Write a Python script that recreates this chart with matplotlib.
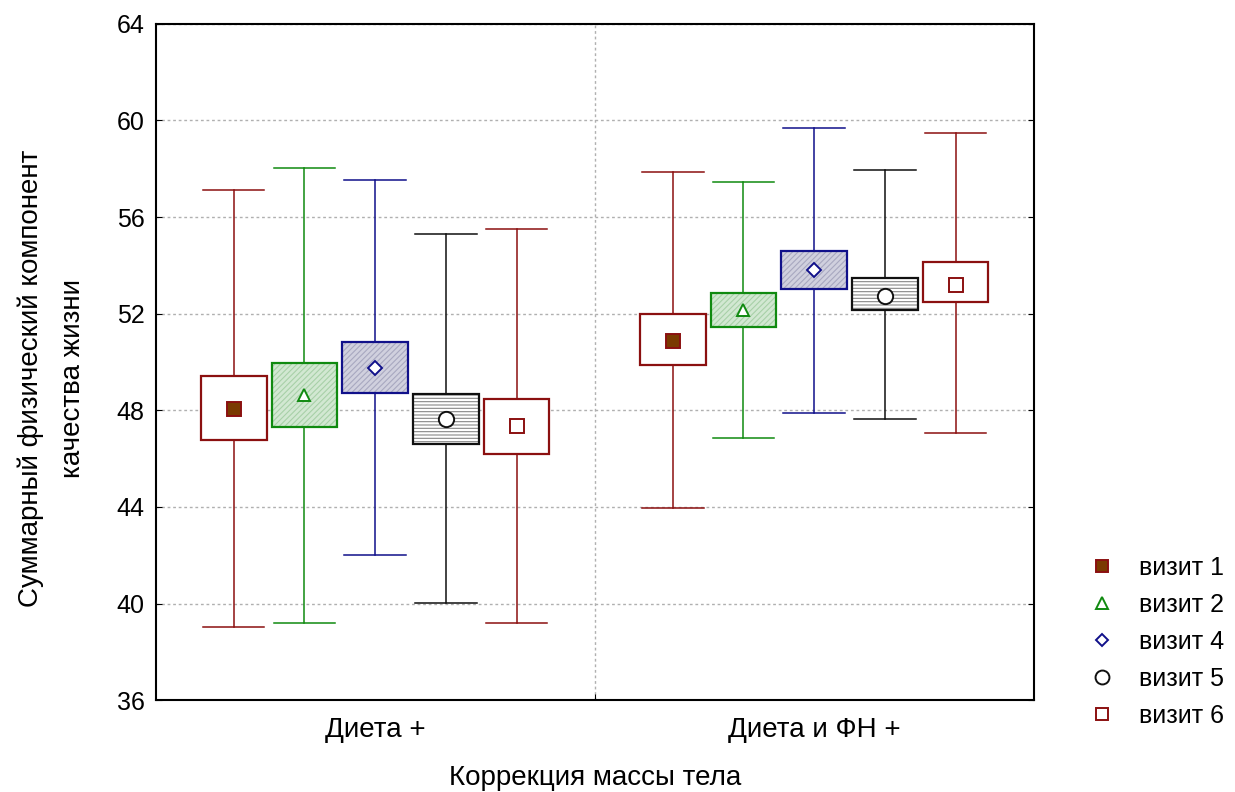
import numpy as np
import matplotlib.pyplot as plt
from matplotlib.patches import Rectangle
from matplotlib.lines import Line2D

plt.rcParams['font.family'] = ['Liberation Sans', 'DejaVu Sans']
plt.rcParams['hatch.linewidth'] = 0.8

groups = ['Диета +', 'Диета и ФН +']
visits = ['визит 1', 'визит 2', 'визит 4', 'визит 5', 'визит 6']

# rows: visits, cols: groups
means = np.array([[48.05, 50.87],
                  [48.63, 52.16],
                  [49.75, 53.81],
                  [47.64, 52.74],
                  [47.35, 53.19]])
box_lo = np.array([[46.77, 49.88],
                   [47.31, 51.45],
                   [48.72, 53.03],
                   [46.60, 52.16],
                   [46.19, 52.49]])
box_hi = np.array([[49.42, 51.99],
                   [49.96, 52.86],
                   [50.83, 54.60],
                   [48.68, 53.48],
                   [48.47, 54.14]])
wh_lo = np.array([[39.02, 43.95],
                  [39.19, 46.85],
                  [42.01, 47.89],
                  [40.02, 47.64],
                  [39.19, 47.06]])
wh_hi = np.array([[57.13, 57.87],
                  [58.04, 57.46],
                  [57.54, 59.70],
                  [55.30, 57.95],
                  [55.51, 59.49]])

# style per visit: edge, box fill, hatch, hatch colour, marker, marker face
styles = [
    ('#8b1010', 'white', None, None, 's', '#7a3a00'),
    ('#108a10', '#d2e8d2', '//////', '#a8d0a8', '^', 'white'),
    ('#10108a', '#d0d0de', '//////', '#a8a8c0', 'D', 'white'),
    ('#101010', 'white', '-----', '#888888', 'o', 'white'),
    ('#8b1010', 'white', None, None, 's', 'white'),
]
msizes = [10, 9, 7, 11, 10]

fig = plt.figure(figsize=(12.35, 7.92), dpi=100)
ax = fig.add_axes([0.126, 0.116, 0.711, 0.854])

offsets = (np.arange(5) - 2) * 0.161
bw = 0.150
cw = 0.140
for i in range(5):
    ec, fc, hatch, hc, mk, mfc = styles[i]
    for j in range(2):
        x = j + 0.5 + offsets[i]
        ax.plot([x, x], [wh_lo[i, j], box_lo[i, j]], color=ec, lw=1.1, zorder=2)
        ax.plot([x, x], [box_hi[i, j], wh_hi[i, j]], color=ec, lw=1.1, zorder=2)
        ax.plot([x - cw / 2, x + cw / 2], [wh_lo[i, j]] * 2, color=ec, lw=1.1, zorder=2)
        ax.plot([x - cw / 2, x + cw / 2], [wh_hi[i, j]] * 2, color=ec, lw=1.1, zorder=2)
        h = box_hi[i, j] - box_lo[i, j]
        ax.add_patch(Rectangle((x - bw / 2, box_lo[i, j]), bw, h, facecolor=fc,
                               edgecolor=hc if hatch else 'none', hatch=hatch,
                               lw=0, zorder=3))
        ax.add_patch(Rectangle((x - bw / 2, box_lo[i, j]), bw, h, facecolor='none',
                               edgecolor=ec, lw=1.6, zorder=4))
        ax.plot(x, means[i, j], marker=mk, ms=msizes[i], mfc=mfc, mec=ec,
                mew=1.4, zorder=5)

ax.set_xlim(0, 2)
ax.set_ylim(36, 64)
ax.set_yticks(np.arange(36, 65, 4))
ax.set_xticks([1.0])
ax.set_xticklabels([''])
ax.set_xticks([0.5, 1.5], minor=True)
ax.set_xticklabels(groups, minor=True)
ax.tick_params(axis='x', which='minor', length=0, pad=12, labelsize=20)
ax.tick_params(axis='x', which='major', direction='in', length=4)
ax.tick_params(axis='y', direction='in', length=4, labelsize=18, right=True, pad=8)
ax.grid(True, axis='y', linestyle=(0, (2, 2)), color='#b0b0b0', lw=1)
ax.grid(True, axis='x', which='major', linestyle=(0, (2, 2)), color='#b0b0b0', lw=1)
ax.set_axisbelow(True)
for s in ax.spines.values():
    s.set_linewidth(1.5)

ax.set_xlabel('Коррекция массы тела', fontsize=20, labelpad=16)
ax.set_ylabel('Суммарный физический компонент\nкачества жизни', fontsize=20,
              labelpad=22, linespacing=1.8)
ax.yaxis.label.set_y(0.476)

handles = [Line2D([], [], ls='none', marker=styles[i][4], ms=msizes[i] - 1,
                  mfc=styles[i][5], mec=styles[i][0], mew=1.4) for i in range(5)]
ax.legend(handles, visits, loc='center left', bbox_to_anchor=(1.064, 0.086),
          frameon=False, fontsize=18, labelspacing=0.52, handlelength=1.0,
          handletextpad=0.98, borderpad=0, borderaxespad=0)

fig.savefig('out.png', dpi=100)
